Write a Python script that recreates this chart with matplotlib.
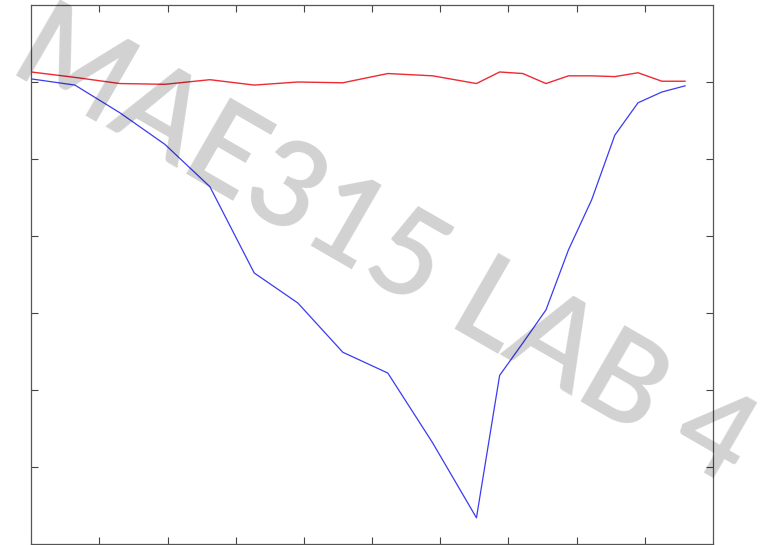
import matplotlib
matplotlib.use("Agg")
import matplotlib.pyplot as plt
import numpy as np

# sample positions (shared by both traces)
x = [0.0, 0.64, 1.30, 1.96, 2.62, 3.27, 3.91, 4.57, 5.23, 5.89,
     6.53, 6.87, 7.21, 7.55, 7.88, 8.22, 8.56, 8.90, 9.25, 9.59]

# red trace - nearly flat
red = [6.13, 6.06, 5.98, 5.97, 6.03, 5.96, 6.00, 5.99, 6.11, 6.08,
       5.98, 6.13, 6.11, 5.98, 6.08, 6.08, 6.07, 6.12, 6.01, 6.01]

# blue trace - deep dip
blue = [6.04, 5.96, 5.60, 5.19, 4.64, 3.52, 3.13, 2.49, 2.22, 1.31,
        0.34, 2.19, 2.61, 3.04, 3.82, 4.47, 5.31, 5.73, 5.87, 5.95]

watermark = "MAE315 LAB 4"

fig = plt.figure(figsize=(7.68, 5.45), dpi=100)
ax = fig.add_axes([31.3/768, 1/545, (713-31.3)/768, 539/545])

ax.plot(x, red, color='#ee2a33', lw=1.0, zorder=12)
ax.plot(x, blue, color='#3b3bf0', lw=0.9, zorder=12)

ax.set_xlim(0, 10)
ax.set_ylim(0, 7)
ax.set_xticks(np.arange(1, 10))
ax.set_yticks(np.arange(1, 7))
ax.set_xticklabels([])
ax.set_yticklabels([])
ax.tick_params(direction='in', length=5, width=0.8, color='#444444',
               top=True, right=True)
for s in ax.spines.values():
    s.set_color('#555555')
    s.set_linewidth(0.9)

fig.text(0.500, 0.545, watermark, rotation=-30, fontsize=87,
         family='Lato', fontweight='semibold', color='black', alpha=0.18,
         ha='center', va='center', rotation_mode='anchor', zorder=10)

fig.savefig('out.png', dpi=100)
